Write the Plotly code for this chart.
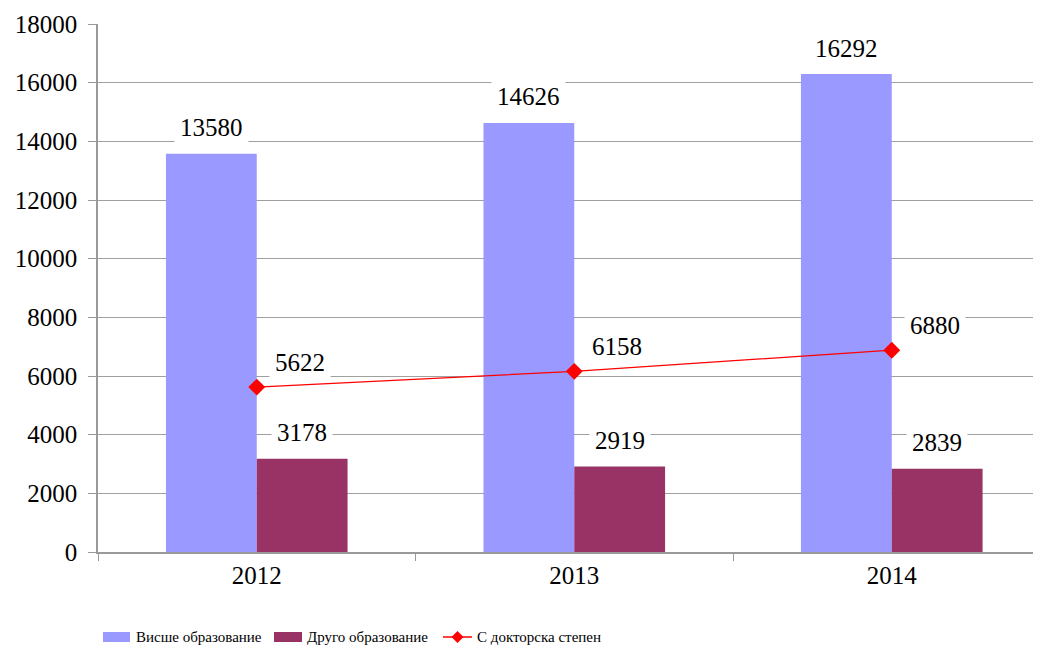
import plotly.graph_objects as go

years = ["2012", "2013", "2014"]
higher_ed = [13580, 14626, 16292]
other_ed = [3178, 2919, 2839]
doctoral = [5622, 6158, 6880]
series_names = ["Висше образование", "Друго образование", "С докторска степен"]
y_ticks = [0, 2000, 4000, 6000, 8000, 10000, 12000, 14000, 16000, 18000]

BLUE = "#9999FF"
MAROON = "#993366"
RED = "#FF0000"
FONT = "Liberation Serif"
BARGAP = 0.428

# page has an 8px body margin; figure fills the rest of the 1041x650 window
OFF = 8
W, H = 1041 - OFF, 650 - OFF
ML, MR, MT, MB = 98 - OFF, 0, 24 - OFF, 650 - 552
PW, PH = W - ML - MR, H - MT - MB

fig = go.Figure()
fig.add_trace(go.Bar(x=years, y=higher_ed, name=series_names[0], marker_color=BLUE,
                     marker_line_width=0, showlegend=False))
fig.add_trace(go.Bar(x=years, y=other_ed, name=series_names[1], marker_color=MAROON,
                     marker_line_width=0, showlegend=False))
fig.add_trace(go.Scatter(x=years, y=doctoral, name=series_names[2], mode="lines+markers",
                         line=dict(color=RED, width=1.2),
                         marker=dict(symbol="diamond", size=13, color=RED),
                         showlegend=False, cliponaxis=False))

half = (1 - BARGAP) / 4
annotations = []
lab_font = dict(family=FONT, size=25, color="black")
for i, (a, b, c) in enumerate(zip(higher_ed, other_ed, doctoral)):
    annotations.append(dict(x=i - half, y=a, xref="x", yref="y", text=str(a), showarrow=False,
                            yanchor="middle", yshift=26, bgcolor="white", borderpad=5, font=lab_font))
    annotations.append(dict(x=i + half, y=b, xref="x", yref="y", text=str(b), showarrow=False,
                            yanchor="middle", yshift=26, bgcolor="white", borderpad=5, font=lab_font))
    annotations.append(dict(x=i + half - 0.007, y=c, xref="x", yref="y", text=str(c), showarrow=False,
                            yanchor="middle", yshift=25, bgcolor="white", borderpad=5, font=lab_font))

# custom legend (window pixel positions converted to paper coords)
def px(xp):
    return (xp - OFF - ML) / PW

def py(yp):
    return (H - MB - (yp - OFF)) / PH

leg_font = dict(family=FONT, size=15, color="black")
dx, dy = 6 / PW, 6 / PH
cx, cy = px(457.5), py(637)
shapes = [
    dict(type="rect", xref="paper", yref="paper", x0=px(103), x1=px(130), y0=py(642), y1=py(632),
         fillcolor=BLUE, line_width=0),
    dict(type="rect", xref="paper", yref="paper", x0=px(274), x1=px(302), y0=py(642), y1=py(632),
         fillcolor=MAROON, line_width=0),
    dict(type="line", xref="paper", yref="paper", x0=px(443), x1=px(472), y0=cy, y1=cy,
         line=dict(color=RED, width=1.5)),
    dict(type="path", xref="paper", yref="paper",
         path=f"M {cx - dx} {cy} L {cx} {cy + dy} L {cx + dx} {cy} L {cx} {cy - dy} Z",
         fillcolor=RED, line_width=0),
]
for xp, name in zip([134, 305, 475], series_names):
    annotations.append(dict(x=px(xp), y=py(637), xref="paper", yref="paper", text=name,
                            showarrow=False, xanchor="left", yanchor="middle", font=leg_font))

fig.update_layout(
    width=W, height=H,
    margin=dict(l=ML, r=MR, t=MT, b=MB, autoexpand=False),
    paper_bgcolor="white", plot_bgcolor="white",
    barmode="group", bargap=BARGAP, bargroupgap=0,
    font=dict(family=FONT, color="black"),
    annotations=annotations, shapes=shapes,
    xaxis=dict(type="category", range=[-0.5, 2.47], tickson="boundaries", ticks="outside",
               ticklen=7, tickcolor="#999999", showline=True, linecolor="#999999", linewidth=1.5,
               showgrid=False, automargin=False, tickfont=dict(family=FONT, size=25, color="black")),
    yaxis=dict(range=[0, 18000], tickvals=y_ticks, tickformat="d", ticks="outside", ticklen=8,
               tickcolor="#999999", showline=True, linecolor="#999999", linewidth=1.5, showgrid=True,
               gridcolor="#a0a0a0", gridwidth=1.3, zeroline=False, ticklabelstandoff=6,
               automargin=False, tickfont=dict(family=FONT, size=25, color="black")),
    showlegend=False,
)
fig.write_html("out.html")
